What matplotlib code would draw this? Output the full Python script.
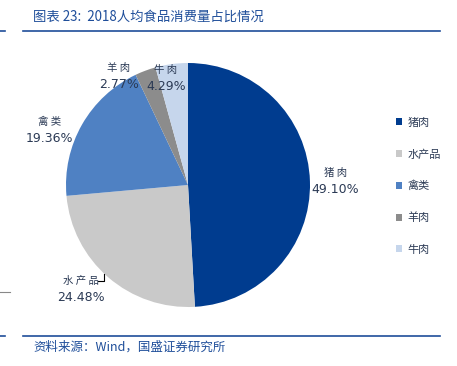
import numpy as np
import matplotlib.pyplot as plt
from matplotlib.patches import Patch
from matplotlib.lines import Line2D

plt.rcParams['font.family'] = ['Noto Sans CJK SC', 'DejaVu Sans']

# data
categories = ['猪肉', '水产品', '禽类', '羊肉', '牛肉']
shares = [49.10, 24.48, 19.36, 2.77, 4.29]
colors = ['#003C8F', '#C9C9C9', '#4F81C3', '#8C8C8C', '#C6D6EC']

title = '图表 23:  2018人均食品消费量占比情况'
source = '资料来源：Wind，国盛证券研究所'

# label placement (distance from centre in radii, angle nudge in degrees)
label_dist = [1.21, 1.22, 1.22, 1.06, 0.90]
label_nudge = [0, -5, 8, 12, 4]

fig = plt.figure(figsize=(4.57, 3.66), dpi=100)
W, H = 457, 366

# pie axes: centre (188,185) px, radius 122 px
ax = fig.add_axes([(188 - 122) / W, (366 - 307) / H, 244 / W, 244 / H])
wedges, _ = ax.pie(shares, colors=colors, startangle=90, counterclock=False,
                   radius=1, wedgeprops=dict(linewidth=0))
ax.set_xlim(-1, 1)
ax.set_ylim(-1, 1)
ax.set_aspect('equal')
ax.axis('off')

txt_col = '#2B3A55'
for w, cat, val, d, nd in zip(wedges, categories, shares, label_dist, label_nudge):
    ang = np.deg2rad((w.theta1 + w.theta2) / 2 + nd)
    x, y = d * np.cos(ang), d * np.sin(ang)
    ax.text(x, y + 0.065, ' '.join(cat), ha='center', va='center', fontsize=7.5,
            color=txt_col, clip_on=False)
    ax.text(x, y - 0.07, f'{val:.2f}%', ha='center', va='center', fontsize=9,
            color=txt_col, family='DejaVu Sans', clip_on=False)

# small leader line for 水产品
w = wedges[1]
a = np.deg2rad((w.theta1 + w.theta2) / 2 - 2)
ex, ey = np.cos(a), np.sin(a)
ax.plot([ex - 0.06, ex - 0.01, ex - 0.01], [ey - 0.05, ey - 0.05, ey],
        color='black', lw=0.8, clip_on=False)

# legend
handles = [Patch(facecolor=c, edgecolor='none') for c in colors]
leg = fig.legend(handles, categories, loc='upper left',
                 bbox_to_anchor=(390 / W, 1 - 112 / H), frameon=False,
                 fontsize=8, handlelength=0.6, handleheight=0.6,
                 handletextpad=0.5, labelspacing=1.92, borderpad=0)
for t in leg.get_texts():
    t.set_color(txt_col)

# title, rules, source
rule_col = '#1F4E9A'
fig.text(33 / W, 1 - 17 / H, title, fontsize=9.6, color=rule_col,
         style='italic', va='center', ha='left')
fig.add_artist(Line2D([23 / W, 440 / W], [1 - 31 / H] * 2, color=rule_col, lw=1.2))
fig.add_artist(Line2D([0, 5 / W], [1 - 31 / H] * 2, color=rule_col, lw=1.2))
fig.add_artist(Line2D([23 / W, 440 / W], [1 - 336 / H] * 2, color=rule_col, lw=1.2))
fig.add_artist(Line2D([0, 5 / W], [1 - 336 / H] * 2, color=rule_col, lw=1.2))
fig.add_artist(Line2D([0, 10 / W], [1 - 292 / H] * 2, color='#888888', lw=0.8))
fig.text(33 / W, 1 - 347 / H, source, fontsize=9, color=rule_col,
         style='italic', va='center', ha='left')

fig.savefig('out.png', dpi=100)
